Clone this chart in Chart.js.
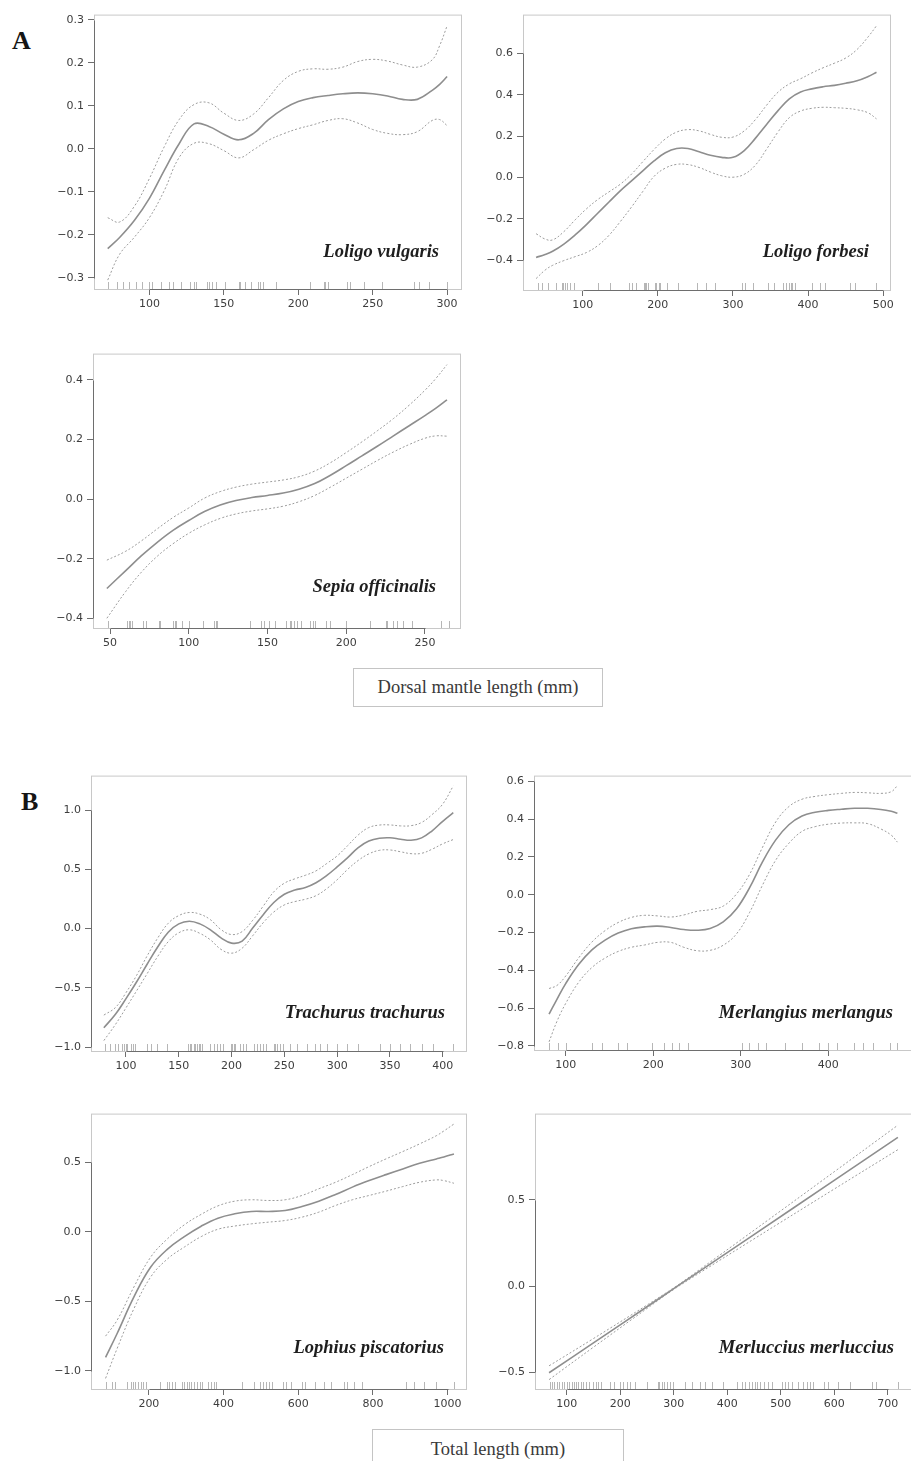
<!DOCTYPE html>
<html>
<head>
<meta charset="utf-8">
<script src="https://cdn.jsdelivr.net/npm/chart.js@4/dist/chart.umd.min.js"></script>
<style>
  html, body { margin: 0; padding: 0; width: 911px; height: 1461px; overflow: hidden; background: #fff; }
  .panel { position: absolute; }
  .panel canvas { display: block; }
  .tag { position: absolute; font: bold 26px "Liberation Serif", "Times New Roman", serif; line-height: 26px; color: #151515; }
  .axisbox { position: absolute; box-sizing: border-box; border: 1px solid #c4c4c4; background: #fff;
             font: 18.5px "Liberation Serif", "Times New Roman", serif; color: #3a3a3a; text-align: center; }
</style>
</head>
<body>
<div class="tag" style="left:12px; top:28px;">A</div>
<div class="tag" style="left:21px; top:789px;">B</div>
<div class="axisbox" style="left:353px; top:668px; width:250px; height:39px; line-height:37px;">Dorsal mantle length (mm)</div>
<div class="axisbox" style="left:372px; top:1429px; width:252px; height:45px; line-height:39px;">Total length (mm)</div>

<script>
// ---------- Loligo vulgaris (dorsal mantle length, mm) ----------
const lvLength = [72, 80, 90, 100, 110, 120, 130, 140, 150, 160, 170, 180, 190, 200, 210, 220, 230, 240, 250, 260, 270, 280, 290, 295, 300];
const lvFit    = [-0.232, -0.206, -0.166, -0.115, -0.050, 0.012, 0.058, 0.052, 0.034, 0.021, 0.036, 0.068, 0.093, 0.110, 0.119, 0.124, 0.128, 0.130, 0.128, 0.123, 0.115, 0.115, 0.136, 0.150, 0.168];
const lvUpper  = [-0.160, -0.170, -0.133, -0.069, 0.005, 0.068, 0.103, 0.107, 0.083, 0.066, 0.081, 0.119, 0.159, 0.180, 0.186, 0.185, 0.190, 0.203, 0.208, 0.204, 0.195, 0.190, 0.207, 0.240, 0.286];
const lvLower  = [-0.305, -0.245, -0.205, -0.160, -0.097, -0.020, 0.013, 0.012, -0.004, -0.021, -0.002, 0.020, 0.035, 0.047, 0.056, 0.066, 0.070, 0.060, 0.045, 0.036, 0.033, 0.040, 0.066, 0.068, 0.054];
const lvRug    = [72, 78, 82, 86, 91, 95, 100, 102, 108, 113, 116, 121, 127, 130, 131, 139, 140, 142, 145, 151, 160, 161, 164, 168, 173, 174, 176, 185, 208, 217, 218, 220, 233, 235, 244, 256, 278, 281, 288, 300];
const lvXTicks = [100, 150, 200, 250, 300];
const lvYTicks = [-0.3, -0.2, -0.1, 0.0, 0.1, 0.2, 0.3];

// ---------- Loligo forbesi ----------
const lfLength = [38, 50, 60, 75, 90, 105, 120, 135, 150, 165, 180, 195, 210, 225, 240, 255, 270, 285, 300, 315, 330, 345, 360, 375, 390, 405, 420, 435, 450, 465, 480, 491];
const lfFit    = [-0.387, -0.372, -0.357, -0.322, -0.278, -0.228, -0.173, -0.119, -0.065, -0.017, 0.032, 0.080, 0.119, 0.140, 0.140, 0.124, 0.107, 0.097, 0.097, 0.130, 0.190, 0.257, 0.323, 0.380, 0.413, 0.428, 0.438, 0.445, 0.455, 0.467, 0.488, 0.508];
const lfUpper  = [-0.272, -0.298, -0.302, -0.262, -0.205, -0.152, -0.107, -0.070, -0.033, 0.016, 0.076, 0.135, 0.186, 0.219, 0.231, 0.225, 0.208, 0.194, 0.195, 0.225, 0.280, 0.350, 0.412, 0.452, 0.477, 0.505, 0.530, 0.552, 0.577, 0.618, 0.680, 0.733];
const lfLower  = [-0.489, -0.448, -0.425, -0.402, -0.383, -0.363, -0.330, -0.280, -0.214, -0.143, -0.068, 0.005, 0.045, 0.063, 0.062, 0.048, 0.026, 0.008, 0.001, 0.015, 0.060, 0.138, 0.220, 0.289, 0.321, 0.334, 0.339, 0.337, 0.334, 0.327, 0.312, 0.283];
const lfRug    = [40, 46, 54, 65, 72, 74, 77, 79, 83, 89, 120, 136, 162, 166, 171, 181, 183, 184, 187, 196, 198, 201, 203, 212, 227, 252, 264, 276, 312, 316, 327, 347, 354, 367, 371, 375, 377, 379, 383, 405, 416, 422, 456, 462, 490];
const lfXTicks = [100, 200, 300, 400, 500];
const lfYTicks = [-0.4, -0.2, 0.0, 0.2, 0.4, 0.6];

// ---------- Sepia officinalis ----------
const soLength = [48, 60, 70, 80, 90, 100, 110, 120, 130, 140, 150, 160, 170, 180, 190, 200, 210, 220, 230, 240, 250, 257, 264];
const soFit    = [-0.300, -0.240, -0.190, -0.145, -0.105, -0.072, -0.042, -0.020, -0.005, 0.005, 0.012, 0.020, 0.033, 0.052, 0.080, 0.112, 0.145, 0.178, 0.212, 0.246, 0.280, 0.305, 0.333];
const soUpper  = [-0.205, -0.175, -0.140, -0.100, -0.062, -0.030, 0.003, 0.025, 0.040, 0.050, 0.057, 0.064, 0.075, 0.094, 0.122, 0.156, 0.192, 0.230, 0.270, 0.315, 0.365, 0.405, 0.451];
const soLower  = [-0.400, -0.310, -0.245, -0.192, -0.150, -0.115, -0.087, -0.065, -0.050, -0.040, -0.033, -0.024, -0.009, 0.012, 0.040, 0.070, 0.100, 0.130, 0.158, 0.183, 0.204, 0.212, 0.211];
const soRug    = [49, 61, 62, 63, 64, 71, 73, 81, 82, 90, 91, 92, 96, 100, 109, 116, 117, 118, 139, 146, 148, 151, 155, 162, 164, 165, 167, 169, 171, 177, 179, 180, 187, 190, 200, 215, 225, 226, 230, 232, 236, 242, 260, 265];
const soXTicks = [50, 100, 150, 200, 250];
const soYTicks = [-0.4, -0.2, 0.0, 0.2, 0.4];

// ---------- Trachurus trachurus (total length, mm) ----------
const ttLength = [79, 90, 100, 110, 120, 130, 140, 150, 160, 170, 180, 190, 200, 210, 220, 230, 240, 250, 260, 270, 280, 290, 300, 310, 320, 330, 340, 350, 360, 370, 380, 390, 400, 410];
const ttFit    = [-0.836, -0.722, -0.590, -0.450, -0.300, -0.155, -0.030, 0.040, 0.062, 0.040, -0.010, -0.078, -0.122, -0.105, 0.005, 0.117, 0.220, 0.290, 0.325, 0.347, 0.387, 0.447, 0.520, 0.598, 0.683, 0.738, 0.762, 0.766, 0.754, 0.745, 0.765, 0.825, 0.905, 0.977];
const ttUpper  = [-0.729, -0.665, -0.540, -0.395, -0.230, -0.080, 0.045, 0.110, 0.136, 0.122, 0.075, -0.008, -0.050, -0.025, 0.070, 0.190, 0.310, 0.383, 0.420, 0.450, 0.487, 0.548, 0.613, 0.700, 0.790, 0.852, 0.873, 0.874, 0.866, 0.868, 0.895, 0.962, 1.050, 1.203];
const ttLower  = [-0.944, -0.808, -0.668, -0.525, -0.380, -0.235, -0.110, -0.035, -0.010, -0.040, -0.095, -0.175, -0.207, -0.165, -0.060, 0.050, 0.140, 0.200, 0.228, 0.248, 0.278, 0.336, 0.412, 0.500, 0.575, 0.630, 0.660, 0.663, 0.648, 0.632, 0.635, 0.670, 0.715, 0.751];
const ttRug    = [80, 85, 90, 92, 96, 98, 100, 101, 105, 107, 109, 120, 124, 129, 139, 159, 161, 162, 164, 165, 167, 169, 170, 172, 180, 183, 186, 189, 192, 199, 200, 202, 203, 208, 211, 214, 221, 224, 227, 230, 233, 240, 241, 243, 246, 249, 255, 262, 271, 279, 284, 290, 300, 309, 320, 341, 350, 360, 369, 380, 391, 410];
const ttXTicks = [100, 150, 200, 250, 300, 350, 400];
const ttYTicks = [-1.0, -0.5, 0.0, 0.5, 1.0];

// ---------- Merlangius merlangus ----------
const mmLength = [81, 90, 100, 115, 130, 145, 160, 175, 190, 205, 220, 235, 250, 265, 280, 295, 310, 325, 340, 355, 370, 385, 400, 415, 430, 445, 460, 472, 479];
const mmFit    = [-0.632, -0.553, -0.470, -0.368, -0.292, -0.240, -0.203, -0.180, -0.170, -0.166, -0.173, -0.184, -0.188, -0.179, -0.144, -0.076, 0.036, 0.175, 0.290, 0.370, 0.416, 0.436, 0.446, 0.452, 0.457, 0.457, 0.451, 0.441, 0.431];
const mmUpper  = [-0.496, -0.480, -0.430, -0.333, -0.250, -0.190, -0.147, -0.120, -0.109, -0.112, -0.118, -0.107, -0.088, -0.079, -0.060, 0.003, 0.107, 0.252, 0.385, 0.466, 0.505, 0.520, 0.529, 0.536, 0.541, 0.539, 0.536, 0.545, 0.577];
const mmLower  = [-0.778, -0.670, -0.575, -0.462, -0.385, -0.335, -0.300, -0.278, -0.266, -0.252, -0.252, -0.278, -0.296, -0.294, -0.267, -0.208, -0.095, 0.052, 0.183, 0.272, 0.335, 0.360, 0.373, 0.379, 0.380, 0.376, 0.348, 0.315, 0.278];
const mmRug    = [81, 91, 100, 130, 141, 160, 170, 199, 212, 221, 230, 240, 301, 310, 320, 329, 351, 370, 389, 400, 410, 429, 440, 451, 470, 479];
const mmXTicks = [100, 200, 300, 400];
const mmYTicks = [-0.8, -0.6, -0.4, -0.2, 0.0, 0.2, 0.4, 0.6];

// ---------- Lophius piscatorius ----------
const lpLength = [84, 115, 160, 205, 250, 295, 340, 385, 430, 475, 520, 565, 610, 655, 700, 745, 790, 835, 880, 925, 970, 990, 1017];
const lpFit    = [-0.904, -0.732, -0.469, -0.254, -0.125, -0.035, 0.040, 0.098, 0.129, 0.146, 0.146, 0.153, 0.182, 0.220, 0.268, 0.321, 0.368, 0.411, 0.452, 0.493, 0.524, 0.538, 0.560];
const lpUpper  = [-0.751, -0.636, -0.397, -0.182, -0.050, 0.050, 0.125, 0.186, 0.220, 0.230, 0.225, 0.230, 0.261, 0.309, 0.356, 0.411, 0.469, 0.524, 0.577, 0.632, 0.691, 0.725, 0.775];
const lpLower  = [-1.055, -0.840, -0.553, -0.325, -0.195, -0.110, -0.035, 0.018, 0.041, 0.057, 0.069, 0.081, 0.105, 0.141, 0.189, 0.230, 0.261, 0.292, 0.325, 0.356, 0.373, 0.368, 0.349];
const lpRug    = [84, 100, 109, 142, 151, 158, 164, 171, 178, 185, 191, 231, 249, 254, 263, 271, 289, 294, 301, 307, 313, 321, 330, 337, 343, 359, 367, 374, 381, 450, 481, 497, 505, 513, 521, 530, 560, 568, 581, 611, 617, 644, 669, 689, 722, 731, 749, 771, 888, 910, 937, 968, 1017];
const lpXTicks = [200, 400, 600, 800, 1000];
const lpYTicks = [-1.0, -0.5, 0.0, 0.5];

// ---------- Merluccius merluccius ----------
const mrLength = [67, 150, 250, 300, 350, 450, 600, 719];
const mrFit    = [-0.502, -0.329, -0.120, -0.015, 0.089, 0.298, 0.612, 0.861];
const mrUpper  = [-0.462, -0.304, -0.110, -0.010, 0.099, 0.323, 0.662, 0.932];
const mrLower  = [-0.542, -0.354, -0.130, -0.020, 0.079, 0.273, 0.562, 0.790];
const mrRug    = [68, 72, 76, 81, 86, 91, 95, 100, 105, 109, 114, 117, 122, 126, 131, 136, 141, 150, 155, 159, 164, 181, 189, 200, 205, 212, 218, 228, 250, 270, 273, 278, 282, 287, 293, 298, 321, 334, 349, 359, 371, 393, 418, 427, 433, 440, 446, 452, 456, 461, 468, 477, 483, 502, 508, 514, 522, 533, 542, 549, 555, 560, 580, 589, 608, 630, 670, 678, 719];
const mrXTicks = [100, 200, 300, 400, 500, 600, 700];
const mrYTicks = [-0.5, 0.0, 0.5];

const speciesNames = ['Loligo vulgaris', 'Loligo forbesi', 'Sepia officinalis',
                      'Trachurus trachurus', 'Merlangius merlangus', 'Lophius piscatorius', 'Merluccius merluccius'];

// Panel table: series + axis limits + where each plotting frame sits on the page.
const panels = [
  { name: speciesNames[0], len: lvLength, fit: lvFit, up: lvUpper, lo: lvLower, rug: lvRug, xt: lvXTicks, yt: lvYTicks,
    xlim: [62.8, 310], ylim: [-0.328, 0.312], box: [94, 14, 462, 290], lab: [23, 33] },
  { name: speciesNames[1], len: lfLength, fit: lfFit, up: lfUpper, lo: lfLower, rug: lfRug, xt: lfXTicks, yt: lfYTicks,
    xlim: [20.6, 510.3], ylim: [-0.549, 0.787], box: [523, 14, 891, 291], lab: [22, 34] },
  { name: speciesNames[2], len: soLength, fit: soFit, up: soUpper, lo: soLower, rug: soRug, xt: soXTicks, yt: soYTicks,
    xlim: [39.2, 272.9], ylim: [-0.436, 0.488], box: [93, 353, 461, 629], lab: [25, 37] },
  { name: speciesNames[3], len: ttLength, fit: ttFit, up: ttUpper, lo: ttLower, rug: ttRug, xt: ttXTicks, yt: ttYTicks,
    xlim: [66.85, 423], ylim: [-1.04, 1.29], box: [91, 775, 467, 1052], lab: [22, 34] },
  { name: speciesNames[4], len: mmLength, fit: mmFit, up: mmUpper, lo: mmLower, rug: mmRug, xt: mmXTicks, yt: mmYTicks,
    xlim: [63.8, 499.1], ylim: [-0.8265, 0.630], box: [534, 775, 915, 1051], lab: [22, 33] },
  { name: speciesNames[5], len: lpLength, fit: lpFit, up: lpUpper, lo: lpLower, rug: lpRug, xt: lpXTicks, yt: lpYTicks,
    xlim: [45, 1052], ylim: [-1.1385, 0.85], box: [91, 1113, 467, 1390], lab: [23, 37] },
  { name: speciesNames[6], len: mrLength, fit: mrFit, up: mrUpper, lo: mrLower, rug: mrRug, xt: mrXTicks, yt: mrYTicks,
    xlim: [40.75, 751], ylim: [-0.602, 0.999], box: [535, 1113, 915, 1390], lab: [21, 37] }
];

const FRAME = '#c8c8c8';
const AXIS  = '#6e6e6e';
const TICKTXT = '#3d3d3d';
const Y_AXIS_W = 60, X_AXIS_H = 34, PAD = 10;

function fmtY(v) {
  const s = Math.abs(v).toFixed(1);
  return v < -1e-9 ? '\u2212' + s : s;
}

function pairs(xs, ys) { return xs.map((x, i) => ({ x: x, y: ys[i] })); }

// Frame, axis spans, rug and species caption drawn from the chart's own scales.
function gamDecor(p) {
  return {
    id: 'gamDecor',
    beforeDatasetsDraw(chart) {
      const ctx = chart.ctx, a = chart.chartArea, sx = chart.scales.x, sy = chart.scales.y;
      ctx.save();
      ctx.lineWidth = 1;
      ctx.strokeStyle = FRAME;
      ctx.strokeRect(a.left + 0.5, a.top + 0.5, a.right - a.left - 1, a.bottom - a.top - 1);

      ctx.strokeStyle = AXIS;
      ctx.beginPath();
      const yt = sy.ticks, xt = sx.ticks;
      ctx.moveTo(a.left + 0.5, Math.round(sy.getPixelForValue(yt[0].value)) + 0.5);
      ctx.lineTo(a.left + 0.5, Math.round(sy.getPixelForValue(yt[yt.length - 1].value)) + 0.5);
      ctx.moveTo(Math.round(sx.getPixelForValue(xt[0].value)) + 0.5, a.bottom - 0.5);
      ctx.lineTo(Math.round(sx.getPixelForValue(xt[xt.length - 1].value)) + 0.5, a.bottom - 0.5);
      ctx.stroke();

      ctx.strokeStyle = 'rgba(110,110,110,0.5)';
      ctx.beginPath();
      for (const v of p.rug) {
        const px = Math.round(sx.getPixelForValue(v)) + 0.5;
        ctx.moveTo(px, a.bottom - 1);
        ctx.lineTo(px, a.bottom - 8);
      }
      ctx.stroke();
      ctx.restore();
    },
    afterDraw(chart) {
      const ctx = chart.ctx, a = chart.chartArea;
      ctx.save();
      ctx.font = 'italic bold 18.5px "Liberation Serif", "Times New Roman", serif';
      ctx.fillStyle = '#1e1e1e';
      ctx.textAlign = 'right';
      ctx.textBaseline = 'alphabetic';
      ctx.fillText(p.name, a.right - p.lab[0], a.bottom - p.lab[1]);
      ctx.restore();
    }
  };
}

panels.forEach((p) => {
  const [L, T, R, B] = p.box;
  const holder = document.createElement('div');
  holder.className = 'panel';
  const w = (R - L) + Y_AXIS_W + PAD;
  const h = (B - T) + PAD + X_AXIS_H;
  holder.style.left = (L - Y_AXIS_W) + 'px';
  holder.style.top = (T - PAD) + 'px';
  const cv = document.createElement('canvas');
  cv.width = w; cv.height = h;
  cv.style.width = w + 'px'; cv.style.height = h + 'px';
  holder.appendChild(cv);
  document.body.appendChild(holder);

  const tickFont = { family: '"DejaVu Sans", sans-serif', size: 11 };
  const lineCommon = { pointRadius: 0, showLine: true, tension: 0.4, cubicInterpolationMode: 'default', fill: false };

  new Chart(cv, {
    type: 'scatter',
    data: {
      datasets: [
        Object.assign({ label: 'upper', data: pairs(p.len, p.up), borderColor: '#9c9c9c', borderWidth: 1, borderDash: [2, 2] }, lineCommon),
        Object.assign({ label: 'lower', data: pairs(p.len, p.lo), borderColor: '#9c9c9c', borderWidth: 1, borderDash: [2, 2] }, lineCommon),
        Object.assign({ label: 'fit', data: pairs(p.len, p.fit), borderColor: '#8e8e8e', borderWidth: 1.6 }, lineCommon)
      ]
    },
    options: {
      responsive: false,
      animation: false,
      events: [],
      devicePixelRatio: 1,
      layout: { padding: { left: 0, top: PAD, right: PAD, bottom: 0 } },
      plugins: { legend: { display: false }, tooltip: { enabled: false } },
      scales: {
        x: {
          type: 'linear', min: p.xlim[0], max: p.xlim[1],
          afterBuildTicks: (ax) => { ax.ticks = p.xt.map(v => ({ value: v })); },
          afterFit: (ax) => { ax.height = X_AXIS_H; },
          ticks: { font: tickFont, color: TICKTXT, padding: 3, autoSkip: false, maxRotation: 0,
                   callback: (v) => String(v) },
          grid: { display: true, drawOnChartArea: false, drawTicks: true, tickLength: 5, tickColor: AXIS, color: AXIS },
          border: { display: false }
        },
        y: {
          type: 'linear', min: p.ylim[0], max: p.ylim[1],
          afterBuildTicks: (ax) => { ax.ticks = p.yt.map(v => ({ value: v })); },
          afterFit: (ax) => { ax.width = Y_AXIS_W; },
          ticks: { font: tickFont, color: TICKTXT, padding: 4, autoSkip: false, callback: (v) => fmtY(v) },
          grid: { display: true, drawOnChartArea: false, drawTicks: true, tickLength: 6, tickColor: AXIS, color: AXIS },
          border: { display: false }
        }
      }
    },
    plugins: [gamDecor(p)]
  });
});
</script>
</body>
</html>
